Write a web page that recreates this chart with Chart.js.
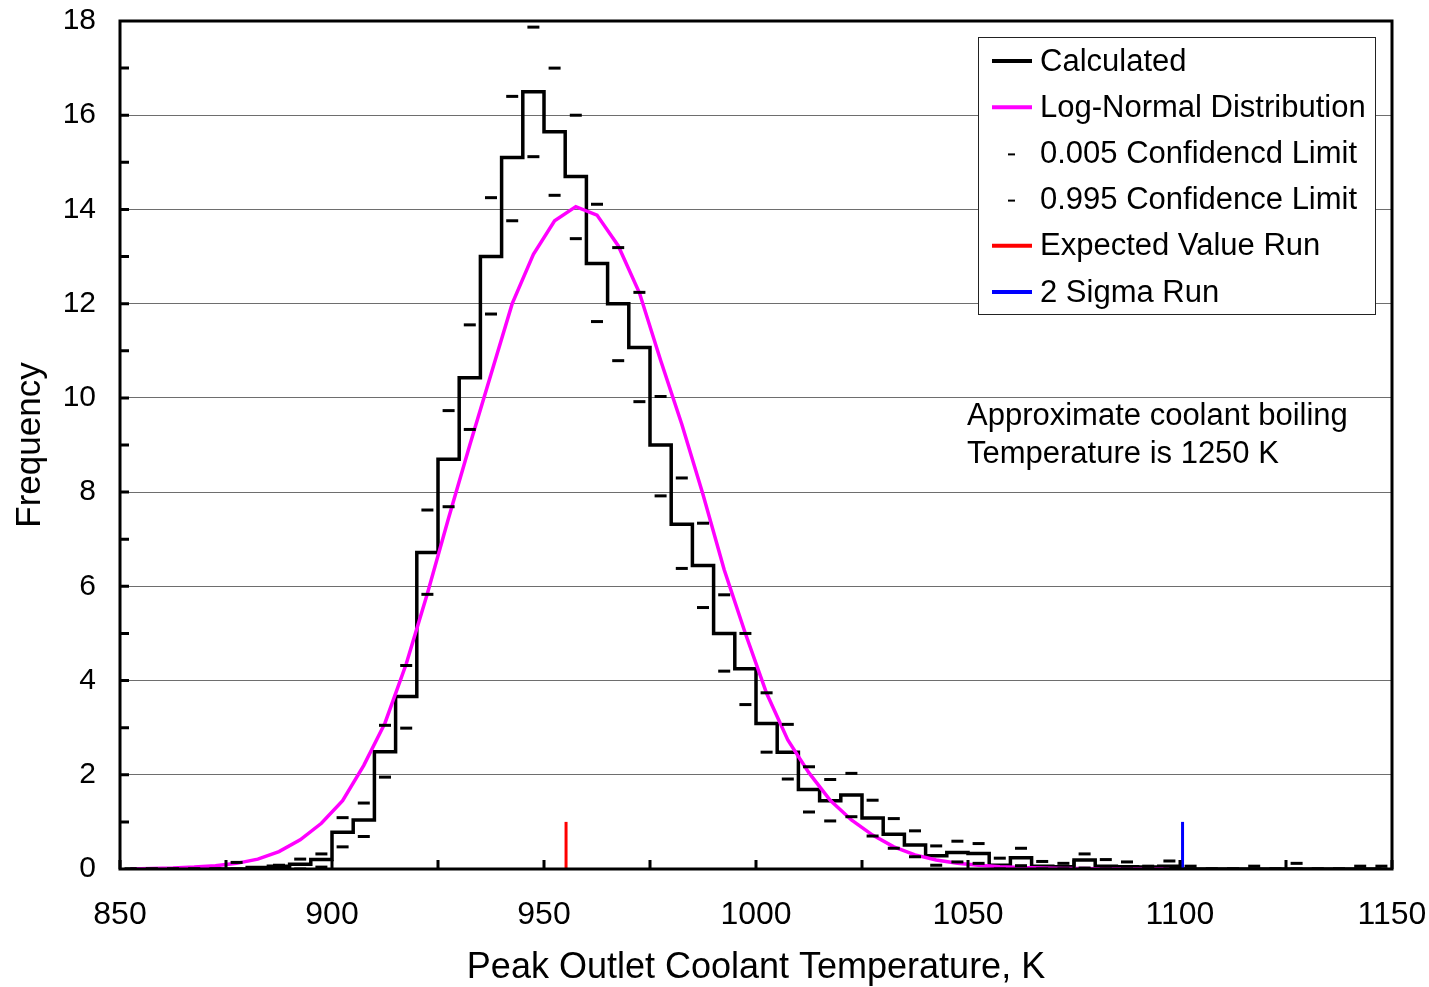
<!DOCTYPE html>
<html>
<head>
<meta charset="utf-8">
<title>Peak Outlet Coolant Temperature</title>
<script src="https://cdn.jsdelivr.net/npm/chart.js@4.4.1/dist/chart.umd.min.js"></script>
<style>
  html, body { margin: 0; padding: 0; background: #fff; }
  canvas { display: block; }
</style>
</head>
<body>
<canvas id="histChart" width="1429" height="987"></canvas>
<script>
// Histogram of peak outlet coolant temperature, with log-normal fit and confidence limits

// bin centres (5 K bins)
const binCenters = [
  852.5, 857.5, 862.5, 867.5, 872.5, 877.5, 882.5, 887.5, 892.5, 897.5,
  902.5, 907.5, 912.5, 917.5, 922.5, 927.5, 932.5, 937.5, 942.5, 947.5,
  952.5, 957.5, 962.5, 967.5, 972.5, 977.5, 982.5, 987.5, 992.5, 997.5,
  1002.5, 1007.5, 1012.5, 1017.5, 1022.5, 1027.5, 1032.5, 1037.5, 1042.5, 1047.5,
  1052.5, 1057.5, 1062.5, 1067.5, 1072.5, 1077.5, 1082.5, 1087.5, 1092.5, 1097.5,
  1102.5, 1107.5, 1112.5, 1117.5, 1122.5, 1127.5, 1132.5, 1137.5, 1142.5, 1147.5
];

const calculated = [
  0, 0, 0, 0, 0, 0, 0.03, 0.06, 0.1, 0.2,
  0.78, 1.04, 2.49, 3.66, 6.72, 8.7, 10.43, 13.0, 15.1, 16.5,
  15.65, 14.7, 12.85, 12.0, 11.07, 9.0, 7.32, 6.44, 5.0, 4.25,
  3.09, 2.48, 1.69, 1.45, 1.57, 1.08, 0.74, 0.51, 0.28, 0.35,
  0.33, 0.08, 0.24, 0.06, 0.05, 0.19, 0.06, 0.05, 0.04, 0.06,
  0, 0, 0, 0, 0, 0, 0, 0, 0, 0
];

// log-normal fit, only drawn up to 1097.5
const logNormal = [
  0.0, 0.01, 0.02, 0.04, 0.07, 0.12, 0.21, 0.37, 0.62, 0.97,
  1.45, 2.2, 3.1, 4.35, 5.85, 7.45, 9.0, 10.5, 12.0, 13.05,
  13.76, 14.06, 13.88, 13.23, 12.23, 10.8, 9.44, 7.95, 6.35, 5.0,
  3.73, 2.74, 2.04, 1.46, 1.04, 0.72, 0.47, 0.3, 0.19, 0.12,
  0.08, 0.05, 0.03, 0.02, 0.01, 0.01, 0.0, 0.0, 0.0, 0.0
];

const lower005 = [
  0, 0, 0, 0, 0, 0, 0, 0, 0, 0.04,
  0.47, 0.69, 1.95, 2.99, 5.83, 7.69, 9.33, 11.78, 13.76, 15.12,
  14.3, 13.38, 11.62, 10.79, 9.92, 7.92, 6.38, 5.55, 4.2, 3.49,
  2.48, 1.91, 1.21, 1.02, 1.11, 0.70, 0.44, 0.26, 0.08, 0.15,
  0.12, 0, 0.07, 0, 0, 0.02, 0, 0, 0, 0,
  0, 0, 0, 0, 0, 0, 0, 0, 0, 0
];

const upper995 = [
  0, 0, 0, 0, 0, 0.14, 0, 0.08, 0.21, 0.32,
  1.09, 1.40, 3.05, 4.32, 7.62, 9.73, 11.55, 14.25, 16.4, 17.87,
  17.0, 16.0, 14.11, 13.19, 12.24, 10.03, 8.3, 7.34, 5.82, 5.0,
  3.74, 3.07, 2.17, 1.9, 2.03, 1.46, 1.07, 0.81, 0.49, 0.59,
  0.54, 0.23, 0.44, 0.16, 0.12, 0.32, 0.2, 0.15, 0.06, 0.17,
  0.06, 0, 0, 0.06, 0, 0.12, 0, 0, 0.06, 0.06
];

const expectedRunT = 955.2;
const twoSigmaRunT = 1100.6;
const runMarkHeight = 1.0;

const xTicks = [850, 875, 900, 925, 950, 975, 1000, 1025, 1050, 1075, 1100, 1125, 1150];
const yMinorTicks = [1, 2, 3, 4, 5, 6, 7, 8, 9, 10, 11, 12, 13, 14, 15, 16, 17];

const FONT = '"Liberation Sans", Arial, sans-serif';

function pts(xs, ys) {
  return ys.map((y, i) => ({ x: xs[i], y: y }));
}

// no extra padding from tick labels, layout padding decides the plot box
function noScalePadding(s) {
  s.paddingTop = 0;
  s.paddingBottom = 0;
  s.paddingLeft = 0;
  s.paddingRight = 0;
}

// frame + inward ticks
const framePlugin = {
  id: 'frame',
  afterDatasetsDraw(chart) {
    const { ctx, chartArea: a, scales } = chart;
    ctx.save();
    ctx.strokeStyle = '#000';
    ctx.lineWidth = 3;
    ctx.beginPath();
    xTicks.forEach(t => {
      const px = scales.x.getPixelForValue(t);
      ctx.moveTo(px, a.bottom);
      ctx.lineTo(px, a.bottom - 9);
    });
    yMinorTicks.forEach(t => {
      const py = scales.y.getPixelForValue(t);
      ctx.moveTo(a.left, py);
      ctx.lineTo(a.left + 9, py);
    });
    ctx.stroke();
    ctx.strokeRect(a.left, a.top, a.right - a.left, a.bottom - a.top);
    ctx.restore();
  }
};

// legend box and note inside the plot
const legendPlugin = {
  id: 'boxLegend',
  afterDraw(chart) {
    const { ctx, chartArea: a } = chart;
    const left = a.left + 858, top = a.top + 16, w = 397, h = 277;
    ctx.save();
    ctx.fillStyle = '#fff';
    ctx.fillRect(left, top, w, h);
    ctx.strokeStyle = '#222';
    ctx.lineWidth = 1;
    ctx.strokeRect(left + 0.5, top + 0.5, w, h);

    ctx.font = '31px ' + FONT;
    ctx.textBaseline = 'middle';
    ctx.fillStyle = '#000';
    chart.data.datasets.forEach((ds, i) => {
      const y = top + 24 + i * 46.2;
      ctx.beginPath();
      if (ds.showLine === false) {
        ctx.lineWidth = 2;
        ctx.strokeStyle = '#000';
        ctx.moveTo(left + 30, y + 1);
        ctx.lineTo(left + 37, y + 1);
      } else {
        ctx.lineWidth = 4;
        ctx.strokeStyle = ds.borderColor;
        ctx.moveTo(left + 14, y);
        ctx.lineTo(left + 54, y);
      }
      ctx.stroke();
      ctx.fillText(ds.label, left + 62, y + 1);
    });

    ctx.fillText('Approximate coolant boiling', a.left + 847, a.top + 395);
    ctx.fillText('Temperature is 1250 K', a.left + 847, a.top + 433);
    ctx.restore();
  }
};

const ctx = document.getElementById('histChart').getContext('2d');
new Chart(ctx, {
  type: 'line',
  data: {
    datasets: [
      {
        label: 'Calculated',
        data: pts(binCenters, calculated),
        borderColor: '#000',
        borderWidth: 3.5,
        stepped: 'middle',
        pointRadius: 0,
        order: 5
      },
      {
        label: 'Log-Normal Distribution',
        data: pts(binCenters, logNormal),
        borderColor: '#ff00ff',
        borderWidth: 3.5,
        tension: 0,
        pointRadius: 0,
        order: 4
      },
      {
        label: '0.005 Confidencd Limit',
        data: pts(binCenters, lower005),
        showLine: false,
        pointStyle: 'line',
        pointRadius: 6,
        pointBorderWidth: 3,
        pointBorderColor: '#000',
        borderColor: '#000',
        order: 1
      },
      {
        label: '0.995 Confidence Limit',
        data: pts(binCenters, upper995),
        showLine: false,
        pointStyle: 'line',
        pointRadius: 6,
        pointBorderWidth: 3,
        pointBorderColor: '#000',
        borderColor: '#000',
        order: 1
      },
      {
        label: 'Expected Value Run',
        data: [{ x: expectedRunT, y: 0 }, { x: expectedRunT, y: runMarkHeight }],
        borderColor: '#ff0000',
        borderWidth: 3,
        pointRadius: 0,
        order: 2
      },
      {
        label: '2 Sigma Run',
        data: [{ x: twoSigmaRunT, y: 0 }, { x: twoSigmaRunT, y: runMarkHeight }],
        borderColor: '#0000ff',
        borderWidth: 3,
        pointRadius: 0,
        order: 2
      }
    ]
  },
  options: {
    responsive: false,
    animation: false,
    devicePixelRatio: 1,
    layout: { padding: { left: 0, top: 21, right: 37, bottom: 0 } },
    plugins: {
      legend: { display: false },
      tooltip: { enabled: false }
    },
    scales: {
      x: {
        type: 'linear',
        min: 850,
        max: 1150,
        border: { display: false },
        grid: { display: false, drawTicks: false },
        ticks: {
          stepSize: 50,
          padding: 27,
          color: '#000',
          font: { family: FONT, size: 32 },
          callback: v => String(v)
        },
        title: {
          display: true,
          text: 'Peak Outlet Coolant Temperature, K',
          color: '#000',
          font: { family: FONT, size: 36 },
          padding: { top: 0, bottom: -3 }
        },
        afterFit(s) { s.height = 118; noScalePadding(s); }
      },
      y: {
        min: 0,
        max: 18,
        border: { display: false },
        grid: { color: '#6e6e6e', lineWidth: 1, drawTicks: false },
        ticks: {
          stepSize: 2,
          padding: 24,
          color: '#000',
          font: { family: FONT, size: 30 }
        },
        title: {
          display: true,
          text: 'Frequency',
          color: '#000',
          font: { family: FONT, size: 35 },
          padding: { top: 9, bottom: 0 }
        },
        afterFit(s) { s.width = 120; noScalePadding(s); }
      }
    }
  },
  plugins: [framePlugin, legendPlugin]
});
</script>
</body>
</html>
